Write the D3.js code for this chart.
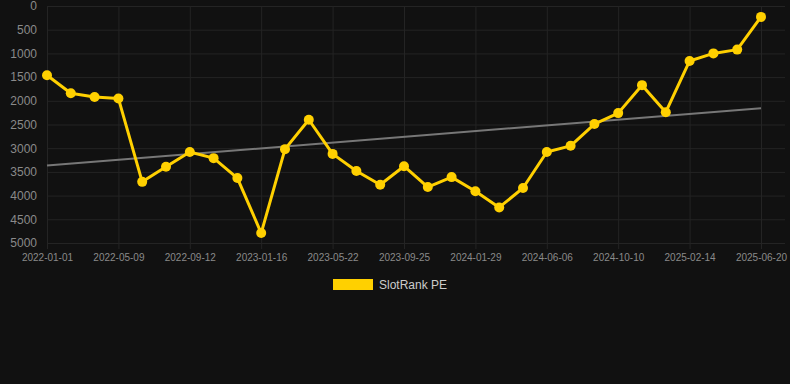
<!DOCTYPE html>
<html>
<head>
<meta charset="utf-8">
<script src="https://cdn.jsdelivr.net/npm/d3@7/dist/d3.min.js"></script>
<style>
  html, body { margin: 0; padding: 0; background: #111111; }
  svg { display: block; font-family: "Liberation Sans", Arial, sans-serif; }
</style>
</head>
<body>
<div id="chart"></div>
<script>
// SlotRank PE, one point about every six weeks (lower rank is better, so the axis is flipped)
var rankValues = [1460, 1840, 1920, 1950, 3710, 3390, 3080, 3210, 3630, 4790,
                  3020, 2400, 3120, 3480, 3770, 3380, 3820, 3610, 3910, 4250,
                  3840, 3080, 2950, 2490, 2260, 1670, 2240, 1160, 1000, 920, 230];
// labels shown under every third point
var tickLabels = ['2022-01-01', '2022-05-09', '2022-09-12', '2023-01-16', '2023-05-22',
                  '2023-09-25', '2024-01-29', '2024-06-06', '2024-10-10', '2025-02-14', '2025-06-20'];
var yTicks = [0, 500, 1000, 1500, 2000, 2500, 3000, 3500, 4000, 4500, 5000];
var seriesName = 'SlotRank PE';

var width = 790, height = 384;
var margin = { top: 6, right: 29, bottom: 141, left: 47 };

var svg = d3.select('#chart').append('svg')
    .attr('width', width)
    .attr('height', height);

var idx = d3.range(rankValues.length);

var x = d3.scalePoint()
    .domain(idx)
    .range([margin.left, width - margin.right]);

var y = d3.scaleLinear()
    .domain([0, 5000])
    .range([margin.top, height - margin.bottom]);

var tickIdx = tickLabels.map(function(d, i) { return i * 3; });

// grid
svg.append('g')
    .selectAll('line')
    .data(yTicks)
    .enter()
    .append('line')
    .attr('x1', margin.left)
    .attr('x2', 785)
    .attr('y1', function(d) { return y(d) + 0.5; })
    .attr('y2', function(d) { return y(d) + 0.5; })
    .style('stroke', '#242424')
    .style('stroke-width', 1);

svg.append('g')
    .selectAll('line')
    .data(tickIdx)
    .enter()
    .append('line')
    .attr('x1', function(d) { return x(d) + 0.5; })
    .attr('x2', function(d) { return x(d) + 0.5; })
    .attr('y1', margin.top)
    .attr('y2', y(5000) + 6)
    .style('stroke', '#242424')
    .style('stroke-width', 1);

// axes
var yAxis = svg.append('g')
    .attr('transform', 'translate(' + (margin.left - 10) + ',0)')
    .call(d3.axisLeft(y).tickValues(yTicks).tickFormat(d3.format('d'))
        .tickSize(0).tickPadding(0));
yAxis.select('.domain').remove();
yAxis.selectAll('text')
    .style('font-size', '12px')
    .style('fill', '#8a8a8a');

var xAxis = svg.append('g')
    .attr('transform', 'translate(0,' + (y(5000) + 4) + ')')
    .call(d3.axisBottom(x).tickValues(tickIdx)
        .tickFormat(function(d) { return tickLabels[d / 3]; })
        .tickSize(0).tickPadding(7));
xAxis.select('.domain').remove();
xAxis.selectAll('text')
    .style('font-size', '10px')
    .style('fill', '#8a8a8a');

// linear trend from the series
var xMean = d3.mean(idx), yMean = d3.mean(rankValues);
var slope = d3.sum(idx, function(i) { return (i - xMean) * (rankValues[i] - yMean); }) /
            d3.sum(idx, function(i) { return (i - xMean) * (i - xMean); });
var icpt = yMean - slope * xMean;
var last = idx.length - 1;

svg.append('line')
    .attr('x1', x(0))
    .attr('y1', y(icpt))
    .attr('x2', x(last))
    .attr('y2', y(icpt + slope * last))
    .style('stroke', '#777777')
    .style('stroke-width', 2);

// series line
var line = d3.line()
    .x(function(d, i) { return x(i); })
    .y(function(d) { return y(d); });

svg.append('path')
    .datum(rankValues)
    .attr('d', line)
    .style('fill', 'none')
    .style('stroke', '#ffd000')
    .style('stroke-width', 3)
    .style('stroke-linejoin', 'round');

svg.append('g')
    .selectAll('circle')
    .data(rankValues)
    .enter()
    .append('circle')
    .attr('cx', function(d, i) { return x(i); })
    .attr('cy', function(d) { return y(d); })
    .attr('r', 5)
    .style('fill', '#ffd000');

// legend
var legend = svg.append('g').attr('transform', 'translate(333,279)');
legend.append('rect')
    .attr('width', 40)
    .attr('height', 11)
    .style('fill', '#ffd000');
legend.append('text')
    .attr('x', 46)
    .attr('y', 10)
    .text(seriesName)
    .style('font-size', '12px')
    .style('fill', '#cccccc');
</script>
</body>
</html>
